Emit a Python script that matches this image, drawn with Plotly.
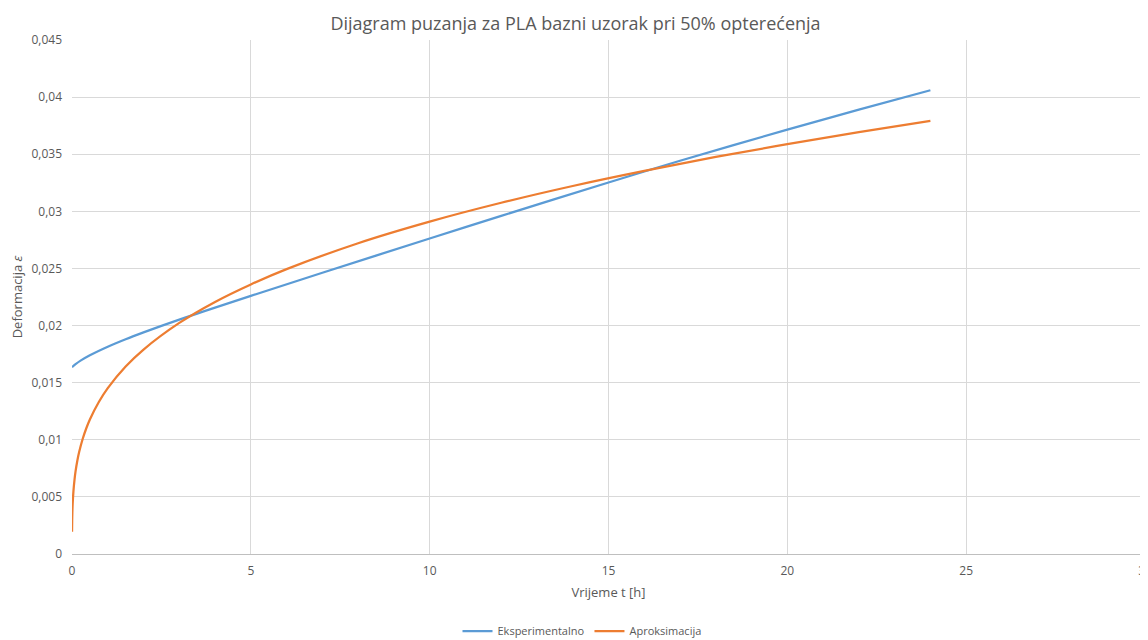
import plotly.graph_objects as go

# vrijeme [h] i deformacija, ocitano s dijagrama
t_eksp = [0, 0.1, 0.25, 0.5, 1, 1.5, 2, 2.5, 3, 3.5, 4, 5, 7, 10, 12, 15, 17, 20, 22, 24]
eps_eksp = [0.01635, 0.01662, 0.01695, 0.0174, 0.01815, 0.0188, 0.0194, 0.01997, 0.02052,
            0.02105, 0.02157, 0.0226, 0.02462, 0.02762, 0.0296, 0.03252, 0.03443, 0.03715,
            0.0389, 0.0406]

t_aprox = [0.0013, 0.005, 0.01, 0.02, 0.04, 0.07, 0.1, 0.15, 0.2, 0.3, 0.4, 0.5, 0.75, 1,
           1.5, 2, 3, 4, 5, 6, 8, 10, 12, 14, 16, 18, 20, 22, 24]
eps_aprox = [0.00195, 0.00293, 0.00362, 0.00446, 0.00549, 0.0065, 0.00725, 0.00819, 0.00893,
             0.01009, 0.01101, 0.01178, 0.01331, 0.01452, 0.01641, 0.0179, 0.02023, 0.02207,
             0.0236, 0.02494, 0.02721, 0.0291, 0.03075, 0.03222, 0.03354, 0.03476, 0.03588,
             0.03693, 0.03791]

x_ticks = [0, 5, 10, 15, 20, 25, 30]
y_ticks = [0, 0.005, 0.01, 0.015, 0.02, 0.025, 0.03, 0.035, 0.04, 0.045]

grey = "#595959"
font_name = "Open Sans"

fig = go.Figure()
fig.add_trace(go.Scatter(x=t_eksp, y=eps_eksp, mode="lines", name="Eksperimentalno",
                         line=dict(color="#5B9BD5", width=2.25, shape="spline")))
fig.add_trace(go.Scatter(x=t_aprox, y=eps_aprox, mode="lines", name="Aproksimacija",
                         line=dict(color="#ED7D31", width=2.25, shape="spline")))

# figure sits 8px in from the page corner; it is a little wider than the window on
# purpose so the "30" label is cut at the right edge like in the original
fig.update_layout(
    width=1146, height=632,
    paper_bgcolor="white", plot_bgcolor="white",
    separators=", ",
    font=dict(family=font_name, size=12, color=grey),
    margin=dict(l=64, r=2, t=32, b=86),
    title=dict(text="Dijagram puzanja za PLA bazni uzorak pri 50% opterećenja",
               x=567.5 / 1146, xref="container", xanchor="center", y=0.975, yanchor="middle",
               font=dict(family=font_name, size=18, color=grey)),
    legend=dict(orientation="h", x=574 / 1146, xref="container", xanchor="center",
                y=0.014, yref="container", yanchor="middle",
                font=dict(size=11, color=grey)),
    showlegend=True,
)
fig.update_xaxes(range=[0, 30], tickvals=x_ticks, showgrid=True, gridcolor="#d9d9d9",
                 gridwidth=1, zeroline=False, showline=True, linecolor="#bfbfbf",
                 ticks="", ticklabelstandoff=6, ticklabeloverflow="allow",
                 tickfont=dict(size=12, color=grey),
                 title=dict(text="Vrijeme t [h]", font=dict(size=13, color=grey), standoff=9))
fig.update_yaxes(range=[0, 0.045], tickvals=y_ticks, showgrid=True, gridcolor="#d9d9d9",
                 gridwidth=1, zeroline=False, showline=False,
                 ticks="", ticklabelstandoff=9, tickfont=dict(size=12, color=grey),
                 title=dict(text="Deformacija <i>ε</i>", font=dict(size=13, color=grey), standoff=7))

fig.write_html("out.html")
